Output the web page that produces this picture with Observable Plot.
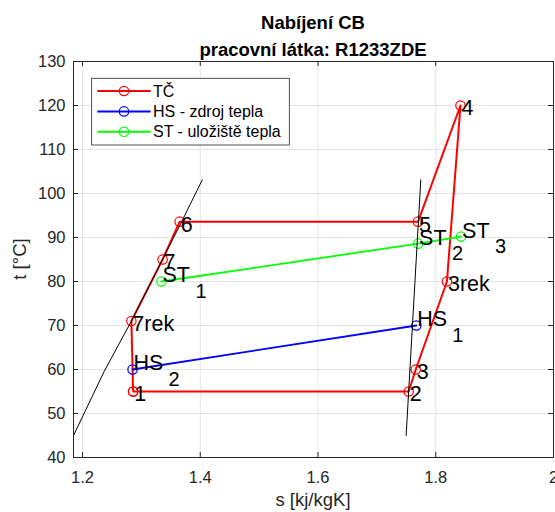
<!DOCTYPE html>
<html><head><meta charset="utf-8">
<script src="https://cdn.jsdelivr.net/npm/d3@7"></script>
<script src="https://cdn.jsdelivr.net/npm/@observablehq/plot@0.6"></script>
<style>
body{margin:0;background:#fff;}
#chart{width:555px;height:512px;}
</style></head><body><div id="chart"></div>
<script>
// ---- data ----
const xTicks = [1.2, 1.4, 1.6, 1.8, 2];
const xTickLabels = ["1.2", "1.4", "1.6", "1.8", "2"];
const yTicks = [40, 50, 60, 70, 80, 90, 100, 110, 120, 130];

// heat pump cycle (TČ)
const tcLabels = ["1", "2", "3", "3rek", "4", "5", "6", "7", "7rek", "1"];
const tcS = [1.286, 1.754, 1.766, 1.819, 1.842, 1.770, 1.365, 1.336, 1.283, 1.286];
const tcT = [55, 55, 60, 80, 120, 93.6, 93.6, 85, 71, 55];

// heat source (HS)
const hsNames = ["HS", "HS"];
const hsSubs = ["1", "2"];
const hsS = [1.767, 1.285];
const hsT = [70, 60];

// heat storage (ST)
const stNames = ["ST", "ST", "ST"];
const stSubs = ["1", "2", "3"];
const stS = [1.334, 1.770, 1.843];
const stT = [80, 88.6, 90.2];

// saturation lines
const liqS = [1.1847, 1.2366, 1.283, 1.336, 1.367, 1.4034];
const liqT = [45, 59.5, 71, 85, 93.2, 103.1];
const vapS = [1.7497, 1.7746];
const vapT = [45, 103.1];

const legendNames = ["TČ", "HS - zdroj tepla", "ST - uložiště tepla"];
const legendColors = ["#ff0000", "#0000ff", "#00ff00"];

const titleLines = ["Nabíjení CB", "pracovní látka: R1233ZDE"];
const xLabel = "s [kj/kgK]";
const yLabel = "t [°C]";

// ---- tables ----
const tc = tcS.map((s, i) => ({s, t: tcT[i], label: tcLabels[i]}));
const hs = hsS.map((s, i) => ({s, t: hsT[i], name: hsNames[i], sub: hsSubs[i]}));
const st = stS.map((s, i) => ({s, t: stT[i], name: stNames[i], sub: stSubs[i]}));
const liq = liqS.map((s, i) => ({s, t: liqT[i]}));
const vap = vapS.map((s, i) => ({s, t: vapT[i]}));

const W = 555, H = 512, ML = 73, MR = 2, MT = 61, MB = 55;
const PW = W - ML - MR, PH = H - MT - MB;
const axisC = "#262626";
const font = "'Liberation Sans', Arial, Helvetica, sans-serif";
const LF = 21.5;

const plot = Plot.plot({
  width: W, height: H,
  marginLeft: ML, marginRight: MR, marginTop: MT, marginBottom: MB,
  style: {fontFamily: font, background: "white"},
  x: {domain: [1.1847, 2.0]},
  y: {domain: [40, 130]},
  marks: [
    Plot.gridX(xTicks, {stroke: "#e3e3e3", strokeOpacity: 1}),
    Plot.gridY(yTicks, {stroke: "#e3e3e3", strokeOpacity: 1}),
    Plot.line(tc, {x: "s", y: "t", stroke: "#ff0000", strokeWidth: 2}),
    Plot.dot(tc, {x: "s", y: "t", stroke: "#ff0000", r: 4.7, strokeWidth: 1.2}),
    Plot.line(hs, {x: "s", y: "t", stroke: "#0000ff", strokeWidth: 1.8}),
    Plot.dot(hs, {x: "s", y: "t", stroke: "#0000ff", r: 4.7, strokeWidth: 1.2}),
    Plot.line(st, {x: "s", y: "t", stroke: "#00ff00", strokeWidth: 1.8}),
    Plot.dot(st, {x: "s", y: "t", stroke: "#00ff00", r: 4.7, strokeWidth: 1.2}),
    Plot.line(liq, {x: "s", y: "t", stroke: "black", strokeWidth: 1, clip: true}),
    Plot.line(vap, {x: "s", y: "t", stroke: "black", strokeWidth: 1, clip: true}),
    Plot.text(tc.slice(0, -1), {x: "s", y: "t", text: "label", textAnchor: "start", lineAnchor: "middle", dx: 1, dy: 3, fontSize: LF, fill: "black"}),
    Plot.text(hs, {x: "s", y: "t", text: "name", textAnchor: "start", lineAnchor: "middle", dx: 1, dy: -6, fontSize: LF, fill: "black"}),
    Plot.text(hs, {x: "s", y: "t", text: "sub", textAnchor: "start", lineAnchor: "middle", dx: 36, dy: 10, fontSize: 20, fill: "black"}),
    Plot.text(st, {x: "s", y: "t", text: "name", textAnchor: "start", lineAnchor: "middle", dx: 1, dy: -6, fontSize: LF, fill: "black"}),
    Plot.text(st, {x: "s", y: "t", text: "sub", textAnchor: "start", lineAnchor: "middle", dx: 34, dy: 10, fontSize: 20, fill: "black"}),
    Plot.frame({stroke: axisC, strokeWidth: 1}),
    Plot.tickX(xTicks, {stroke: axisC, insetTop: PH - 5}),
    Plot.tickX(xTicks, {stroke: axisC, insetBottom: PH - 5}),
    Plot.tickY(yTicks, {stroke: axisC, insetRight: PW - 5}),
    Plot.tickY(yTicks, {stroke: axisC, insetLeft: PW - 5}),
    Plot.axisX(xTicks, {tickSize: 0, tickPadding: 14, fontSize: 16.5, color: axisC, label: null,
      tickFormat: d => xTickLabels[xTicks.indexOf(d)]}),
    Plot.axisY(yTicks, {tickSize: 0, tickPadding: 8, fontSize: 16.5, color: axisC, label: null})
  ]
});

const svg = d3.select(plot);
// titles
svg.append("text").attr("x", ML + PW / 2).attr("y", 29).attr("text-anchor", "middle")
  .attr("font-size", 18.5).attr("font-weight", "bold").attr("fill", "black").text(titleLines[0]);
svg.append("text").attr("x", ML + PW / 2).attr("y", 56).attr("text-anchor", "middle")
  .attr("font-size", 18.5).attr("font-weight", "bold").attr("fill", "black").text(titleLines[1]);
// axis labels
svg.append("text").attr("x", ML + PW / 2).attr("y", 506).attr("text-anchor", "middle")
  .attr("font-size", 18.5).attr("fill", axisC).text(xLabel);
svg.append("text").attr("transform", `translate(26,${MT + PH / 2}) rotate(-90)`).attr("text-anchor", "middle")
  .attr("font-size", 18.5).attr("fill", axisC).text(yLabel);
// legend
const lg = svg.append("g");
lg.append("rect").attr("x", 91.7).attr("y", 78.3).attr("width", 197.6).attr("height", 66.7)
  .attr("fill", "white").attr("stroke", axisC).attr("stroke-width", 0.8);
legendNames.forEach((n, i) => {
  const yy = 91 + 20.4 * i;
  lg.append("line").attr("x1", 97.3).attr("x2", 150.7).attr("y1", yy).attr("y2", yy)
    .attr("stroke", legendColors[i]).attr("stroke-width", 2);
  lg.append("circle").attr("cx", 124).attr("cy", yy).attr("r", 4.7)
    .attr("fill", "none").attr("stroke", legendColors[i]).attr("stroke-width", 1.2);
  lg.append("text").attr("x", 153).attr("y", yy + 5.5).attr("font-size", 16)
    .attr("text-anchor", "start").attr("fill", "black").text(n);
});
document.getElementById("chart").appendChild(plot);
</script>
</body></html>
